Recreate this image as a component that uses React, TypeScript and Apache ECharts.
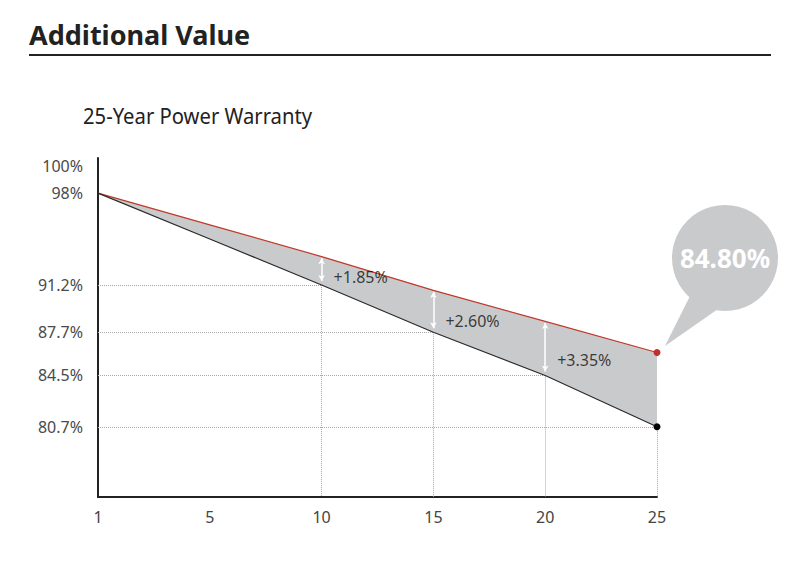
import React, { useEffect, useRef } from "react";
import * as echarts from "echarts";

const years = ["1", "5", "10", "15", "20", "25"];
const standardWarranty = [98, 94.6, 91.2, 87.7, 84.5, 80.7];
const enhancedWarranty = [98, 95.65, 93.3, 90.8, 88.5, 86.2];
const yTickValues = [80.7, 84.5, 87.7, 91.2, 98, 100];
const gainYears = ["10", "15", "20"];
const gainLabels = ["+1.85%", "+2.60%", "+3.35%"];
const finalValueLabel = "84.80%";

const FONT = "Noto Sans";
const Y_MIN = 75.5;
const Y_MAX = 100.6;

export default function App() {
  const ref = useRef<HTMLDivElement>(null);

  useEffect(() => {
    document.body.style.margin = "0";
    if (!ref.current) return;
    const chart = echarts.init(ref.current, undefined, { renderer: "svg" });

    const diff = enhancedWarranty.map((v, i) => +(v - standardWarranty[i]).toFixed(3));
    const last = years.length - 1;

    const dotted = { color: "#a8a8a8", type: "dotted" as const, width: 1 };
    const guideLines: any[] = [];
    for (let i = 2; i < years.length; i++) {
      const v = standardWarranty[i];
      guideLines.push([
        { coord: [years[0], v], lineStyle: dotted },
        { coord: [years[i], v] },
      ]);
      guideLines.push([
        { coord: [years[i], v], lineStyle: dotted },
        { coord: [years[i], Y_MIN] },
      ]);
    }
    const arrowLines: any[] = gainYears.map((y) => {
      const i = years.indexOf(y);
      return [
        { coord: [y, standardWarranty[i] + 0.3] },
        { coord: [y, enhancedWarranty[i] - 0.12] },
      ];
    });

    const labelPoints = gainYears.map((y, k) => {
      const i = years.indexOf(y);
      return {
        value: [y, standardWarranty[i] + diff[i] * 0.28],
        label: gainLabels[k],
      };
    });

    const option: echarts.EChartsOption = {
      animation: false,
      grid: { left: 98, right: 143, top: 158, bottom: 69, containLabel: false },
      xAxis: {
        type: "category",
        data: years,
        boundaryGap: false,
        axisLine: { show: true, lineStyle: { color: "#222", width: 2 } },
        axisTick: { show: false },
        axisLabel: {
          interval: 0,
          color: "#444",
          fontFamily: FONT,
          fontSize: 16,
          margin: 12,
        },
        splitLine: { show: false },
      },
      yAxis: {
        type: "value",
        min: Y_MIN,
        max: Y_MAX,
        axisLine: { show: true, lineStyle: { color: "#222", width: 2 } },
        axisTick: { show: false },
        splitLine: { show: false },
        axisLabel: {
          customValues: yTickValues,
          formatter: (v: number) => `${v}%`,
          color: "#4a4a4a",
          fontFamily: FONT,
          fontSize: 16,
          margin: 15,
        },
      } as any,
      graphic: [
        {
          type: "text",
          x: 29,
          y: 34.5,
          style: {
            text: "Additional Value",
            fontFamily: FONT,
            fontWeight: "bold",
            fontSize: 27,
            fill: "#222",
            verticalAlign: "middle",
          },
        },
        {
          type: "rect",
          shape: { x: 29, y: 54, width: 742, height: 2 },
          style: { fill: "#222" },
        },
        {
          type: "text",
          x: 83,
          y: 115.5,
          scaleX: 0.9,
          style: {
            text: "25-Year Power Warranty",
            fontFamily: FONT,
            fontSize: 22.5,
            fill: "#222",
            verticalAlign: "middle",
          },
        },
        {
          type: "polygon",
          shape: { points: [[693, 290], [728, 302], [665, 346]] },
          style: { fill: "#c9cacc" },
          z: 10,
        },
        {
          type: "circle",
          shape: { cx: 725, cy: 258, r: 53 },
          style: { fill: "#c9cacc" },
          z: 10,
        },
        {
          type: "text",
          x: 725,
          y: 258,
          style: {
            text: finalValueLabel,
            fontFamily: FONT,
            fontWeight: "bold",
            fontSize: 26,
            fill: "#fff",
            align: "center",
            verticalAlign: "middle",
          },
          z: 11,
        },
      ],
      series: [
        {
          name: "Standard",
          type: "line",
          stack: "warranty",
          data: standardWarranty.map((v, i) =>
            i === last ? { value: v, symbol: "circle", symbolSize: 7 } : { value: v, symbol: "none" }
          ),
          lineStyle: { color: "#2a2a2a", width: 1.2 },
          itemStyle: { color: "#000" },
          z: 4,
          silent: true,
          markLine: {
            silent: true,
            symbol: "none",
            label: { show: false },
            data: guideLines,
            z: 1,
          },
        },
        {
          name: "Enhanced",
          type: "line",
          stack: "warranty",
          data: diff.map((v, i) =>
            i === last ? { value: v, symbol: "circle", symbolSize: 7 } : { value: v, symbol: "none" }
          ),
          lineStyle: { color: "#c0392b", width: 1.2 },
          itemStyle: { color: "#c0302e" },
          areaStyle: { color: "#c9cacc", opacity: 1 },
          z: 3,
          silent: true,
        },
        {
          name: "Arrows",
          type: "line",
          data: [],
          silent: true,
          z: 5,
          markLine: {
            silent: true,
            symbol: ["arrow", "arrow"],
            symbolSize: [5, 6],
            label: { show: false },
            lineStyle: { color: "#fff", width: 1.5, type: "solid" },
            data: arrowLines,
          },
        },
        {
          name: "Gains",
          type: "scatter",
          symbolSize: 0,
          silent: true,
          z: 6,
          data: labelPoints.map((p) => ({ value: p.value, text: p.label })),
          label: {
            show: true,
            position: "right",
            distance: 12,
            fontFamily: FONT,
            fontSize: 16,
            color: "#111",
            formatter: (p: any) => p.data.text,
          },
        },
      ],
    };

    chart.setOption(option);
    return () => chart.dispose();
  }, []);

  return <div ref={ref} style={{ width: 800, height: 566 }} />;
}
